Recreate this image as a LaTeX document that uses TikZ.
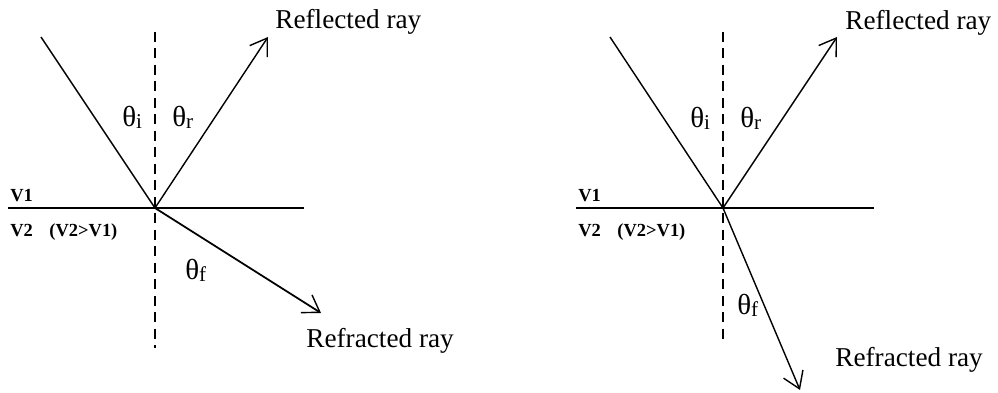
\documentclass[tikz,border=0pt]{standalone}
\usepackage{fontspec}
\setmainfont{Liberation Serif}
\usepackage{tikz}
\usetikzlibrary{arrows.meta}
\newcommand{\angsym}[1]{θ\raisebox{-0.15ex}{\fontsize{12}{12}\selectfont #1}}
\tikzset{
  >={Straight Barb[length=3.2mm,width=4.2mm,line width=0.8pt]},
  ray/.style={->,line width=0.8pt},
  incident/.style={line width=0.8pt},
  interface/.style={line width=1.1pt},
  normal/.style={line width=0.8pt,dash pattern=on 2mm off 1.3mm},
  raylabel/.style={anchor=base west,inner sep=0pt,font=\fontsize{15.5}{18}\selectfont},
  anglelabel/.style={anchor=base west,inner sep=0pt,font=\fontsize{16.5}{18}\selectfont},
  medium/.style={anchor=base west,inner sep=0pt,font=\fontsize{10.5}{12}\selectfont\bfseries}
}
\begin{document}
\begin{tikzpicture}[x=1cm,y=1cm]
  \useasboundingbox (0,0) rectangle (19.96,-7.86);

  % left panel: refraction away from the normal
  \coordinate (hitL) at (3.10,-4.16);
  \coordinate (normtopL) at (3.10,-0.64);
  \coordinate (normbotL) at (3.10,-6.96);
  \coordinate (surfstartL) at (0.16,-4.16);
  \coordinate (surfendL) at (6.08,-4.16);
  \coordinate (srcL) at (0.82,-0.74);
  \coordinate (reflL) at (5.36,-0.74);
  \coordinate (refrL) at (6.42,-6.26);

  \draw[normal] (normtopL) -- (normbotL);
  \draw[interface] (surfstartL) -- (surfendL);
  \draw[incident] (srcL) -- (hitL);
  \draw[ray] (hitL) -- (reflL);
  \draw[ray,line width=1pt] (hitL) -- (refrL);

  \node[raylabel] (reflabelL) at (5.50,-0.58) {Reflected ray};
  \node[raylabel] (refrlabelL) at (6.12,-6.96) {Refracted ray};
  \node[anglelabel] (thetaiL) at (2.44,-2.54) {\angsym{i}};
  \node[anglelabel] (thetarL) at (3.44,-2.54) {\angsym{r}};
  \node[anglelabel] (thetafL) at (3.70,-5.60) {\angsym{f}};
  \node[medium] (vaL) at (0.20,-4.04) {V1};
  \node[medium] (vbL) at (0.20,-4.74) {V2\hspace{0.9em}(V2>V1)};

  % right panel: refraction towards the normal
  \coordinate (hitR) at (14.46,-4.16);
  \coordinate (normtopR) at (14.46,-0.64);
  \coordinate (normbotR) at (14.46,-6.90);
  \coordinate (surfstartR) at (11.52,-4.16);
  \coordinate (surfendR) at (17.48,-4.16);
  \coordinate (srcR) at (12.20,-0.74);
  \coordinate (reflR) at (16.74,-0.74);
  \coordinate (refrR) at (16.00,-7.80);

  \draw[normal] (normtopR) -- (normbotR);
  \draw[interface,line width=0.8pt] (surfstartR) -- (surfendR);
  \draw[incident] (srcR) -- (hitR);
  \draw[ray] (hitR) -- (reflR);
  \draw[ray] (hitR) -- (refrR);

  \node[raylabel] (reflabelR) at (16.90,-0.60) {Reflected ray};
  \node[raylabel] (refrlabelR) at (16.70,-7.34) {Refracted ray};
  \node[anglelabel] (thetaiR) at (13.80,-2.56) {\angsym{i}};
  \node[anglelabel] (thetarR) at (14.80,-2.56) {\angsym{r}};
  \node[anglelabel] (thetafR) at (14.74,-6.30) {\angsym{f}};
  \node[medium] (vaR) at (11.56,-4.04) {V1};
  \node[medium] (vbR) at (11.56,-4.74) {V2\hspace{0.9em}(V2>V1)};
\end{tikzpicture}
\end{document}
